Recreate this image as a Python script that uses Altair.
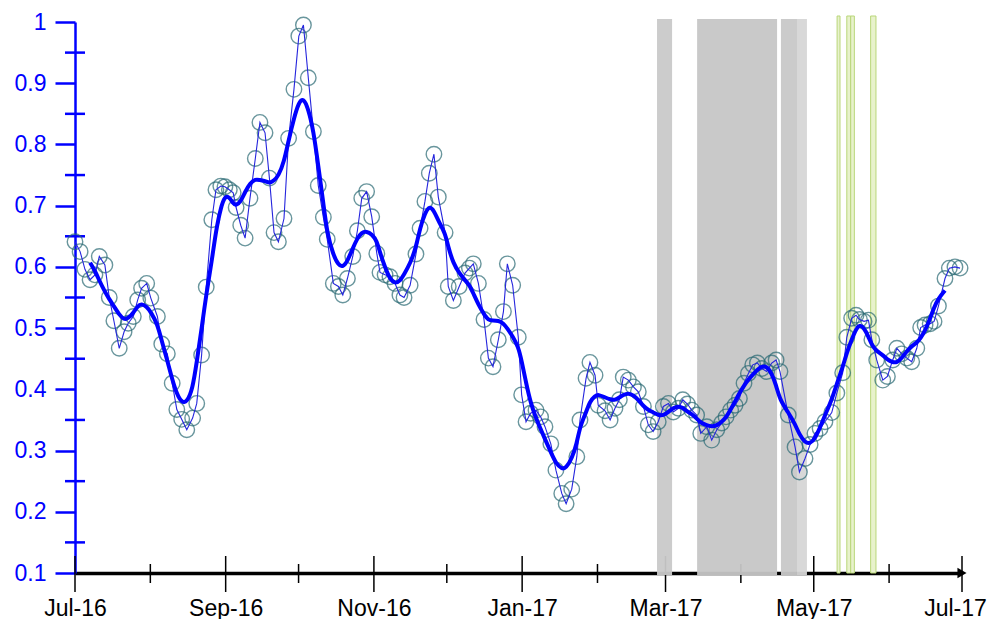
import altair as alt
import pandas as pd

start_date = pd.Timestamp("2016-07-01")

days_since_start = [
    0, 2.1, 4.1, 6.2, 8.2, 10, 12.3, 14.1, 16, 18.2,
    20.2, 21.9, 24, 25.8, 27.4, 29.5, 31.2, 33.9, 35.7, 38,
    40, 41.9, 43.9, 46, 48.4, 50.1, 52.1, 54, 56.3, 58,
    60, 61.7, 63.5, 65.1, 66.3, 68.2, 70, 72, 74.2, 76.1,
    78.2, 80, 81.9, 83.7, 86, 87.9, 90.1, 92.1, 94, 96,
    98.1, 100.1, 102.2, 103.8, 106.3, 108.4, 110.2, 112.1, 114.3, 116.2,
    118, 120, 122.1, 124.2, 125.5, 127.6, 129.6, 131.7, 133.7, 135.4,
    137.9, 140.3, 142, 144, 145.8, 147.7, 149.5, 152.3, 153.6, 155.7,
    158.1, 160.5, 162.3, 163.9, 166, 168.3, 170.1, 172, 174.2, 176.3,
    177.9, 180.1, 182.4, 183.8, 185.6, 187.5, 189.7, 191.6, 193.4, 195.8,
    197.9, 200.3, 202.1, 204.4, 206.5, 207.8, 210.3, 211.9, 214, 215.3,
    218.1, 220.2, 222.2, 224, 225.6, 227.7, 229.8, 231.8, 233.9, 235.9,
    237.9, 240, 242.1, 244.2, 246.2, 248.3, 250.1, 252, 253.8, 255.8,
    257.5, 260, 262, 264.1, 266.1, 267.9, 269.8, 271.6, 273.4, 275.3,
    277.1, 278.9, 280.8, 282.6, 284.6, 286.7, 288.5, 290.1, 293.5, 296.3,
    298.1, 300.4, 302.5, 304.5, 306.6, 308.6, 311.4, 313.5, 315.9, 317.6,
    319.6, 321.4, 322.8, 324.7, 326.5, 327.9, 329.9, 332.4, 334.3, 336.5,
    338.2, 340.2, 342.3, 344.3, 346.4, 348, 349.8, 351.9, 353.5, 355.3,
    358, 359.8, 362.1, 364.2,
]

index_values = [
    0.641, 0.625, 0.596, 0.579, 0.587, 0.617, 0.603, 0.550, 0.512, 0.467,
    0.494, 0.508, 0.519, 0.546, 0.565, 0.573, 0.549, 0.519, 0.474, 0.458,
    0.410, 0.367, 0.351, 0.334, 0.353, 0.377, 0.456, 0.567, 0.677, 0.726,
    0.732, 0.731, 0.726, 0.721, 0.697, 0.668, 0.647, 0.712, 0.777, 0.836,
    0.819, 0.745, 0.656, 0.641, 0.679, 0.810, 0.890, 0.977, 0.995, 0.909,
    0.821, 0.733, 0.681, 0.645, 0.573, 0.568, 0.554, 0.581, 0.617, 0.659,
    0.712, 0.723, 0.682, 0.622, 0.591, 0.587, 0.584, 0.573, 0.554, 0.550,
    0.570, 0.621, 0.663, 0.707, 0.753, 0.784, 0.714, 0.656, 0.568, 0.545,
    0.568, 0.590, 0.598, 0.605, 0.573, 0.514, 0.451, 0.437, 0.481, 0.527,
    0.605, 0.570, 0.485, 0.391, 0.347, 0.361, 0.366, 0.355, 0.339, 0.311,
    0.268, 0.230, 0.213, 0.237, 0.290, 0.350, 0.418, 0.444, 0.423, 0.374,
    0.365, 0.350, 0.369, 0.383, 0.420, 0.415, 0.404, 0.396, 0.372, 0.342,
    0.331, 0.347, 0.372, 0.377, 0.363, 0.369, 0.383, 0.376, 0.366, 0.358,
    0.328, 0.339, 0.317, 0.334, 0.345, 0.355, 0.366, 0.374, 0.385, 0.410,
    0.426, 0.440, 0.443, 0.434, 0.429, 0.443, 0.448, 0.429, 0.358, 0.306,
    0.265, 0.287, 0.310, 0.328, 0.336, 0.347, 0.362, 0.394, 0.427, 0.485,
    0.516, 0.521, 0.514, 0.511, 0.513, 0.481, 0.448, 0.415, 0.421, 0.448,
    0.467, 0.458, 0.451, 0.445, 0.467, 0.501, 0.505, 0.507, 0.511, 0.536,
    0.581, 0.598, 0.600, 0.598,
]

# shaded periods (day offsets from 1 Jul 2016)
gray_band_start = [239.5, 256.0, 290.5, 297.1]
gray_band_end = [245.7, 288.9, 297.1, 301.2]
gray_band_fill = ["#c9c9c9", "#c6c6c6", "#c8c8c8", "#d6d6d6"]
green_band_start = [313.6, 317.6, 319.2, 327.4]
green_band_end = [314.8, 319.2, 320.7, 329.6]

y_major_ticks = [0.1, 0.2, 0.3, 0.4, 0.5, 0.6, 0.7, 0.8, 0.9, 1.0]
y_minor_ticks = [0.15, 0.25, 0.35, 0.45, 0.55, 0.65, 0.75, 0.85, 0.95]
x_major_ticks = ["2016-07-01", "2016-09-01", "2016-11-01", "2017-01-01",
                 "2017-03-01", "2017-05-01", "2017-07-01"]
x_minor_ticks = ["2016-08-01", "2016-10-01", "2016-12-01", "2017-02-01",
                 "2017-04-01", "2017-06-01"]


def day_to_iso(d):
    return (start_date + pd.to_timedelta(d, unit="D")).strftime("%Y-%m-%dT%H:%M:%SZ")


def to_dt(s):
    t = pd.Timestamp(s)
    return alt.DateTime(year=t.year, month=t.month, date=t.day, utc=True)


points = pd.DataFrame({
    "i": list(range(len(index_values))),
    "date": [day_to_iso(d) for d in days_since_start],
    "v": index_values,
})
gray = pd.DataFrame({
    "start": [day_to_iso(d) for d in gray_band_start],
    "end": [day_to_iso(d) for d in gray_band_end],
    "fill": gray_band_fill,
})
green = pd.DataFrame({
    "start": [day_to_iso(d) for d in green_band_start],
    "end": [day_to_iso(d) for d in green_band_end],
})
xmaj = pd.DataFrame({"date": [s + "T00:00:00Z" for s in x_major_ticks]})
xmin = pd.DataFrame({"date": [s + "T00:00:00Z" for s in x_minor_ticks]})
ymin = pd.DataFrame({"v": y_minor_ticks})
arrow = pd.DataFrame({"date": [x_major_ticks[-1] + "T00:00:00Z"]})

FONT = "Liberation Sans"
BLUE = "#0000ff"
H = 551

X_SCALE = alt.Scale(type="utc", domain=[to_dt(x_major_ticks[0]), to_dt(x_major_ticks[-1])])
X_AXIS = alt.Axis(
    values=[to_dt(s) for s in x_major_ticks], format="%b-%y", title=None,
    domainColor="black", domainWidth=3.5, ticks=False, tickSize=0,
    labelColor="black", labelFont=FONT, labelFontSize=23, labelPadding=24,
    labelFlush=False, grid=False,
    # keep the last label inside the drawing
    labelOffset={"condition": {"test": "datum.value > utc(2017, 5, 15)", "value": -7}, "value": 0},
)
Y_SCALE = alt.Scale(domain=[0.1, 1.0], nice=False, zero=False)
Y_AXIS = alt.Axis(
    values=y_major_ticks, format="~g", title=None,
    domainColor=BLUE, domainWidth=2.5, tickColor=BLUE, tickWidth=2.5, tickSize=20,
    labelColor=BLUE, labelFont=FONT, labelFontSize=23, labelPadding=9, grid=False,
)


def X(field):
    return alt.X(field, scale=X_SCALE, axis=X_AXIS)


def Y(field):
    return alt.Y(field, scale=Y_SCALE, axis=Y_AXIS)


x_minor_rules = alt.Chart(xmin).mark_rule(color="black", strokeWidth=1.5).encode(
    x=X("date:T"), y=alt.value(H - 9), y2=alt.value(H + 10))
x_major_rules = alt.Chart(xmaj).mark_rule(color="black", strokeWidth=1.5).encode(
    x=X("date:T"), y=alt.value(H - 17), y2=alt.value(H + 19))

gray_rects = alt.Chart(gray).mark_rect(opacity=0.95).encode(
    x=X("start:T"), x2="end:T", y=alt.value(-3), y2=alt.value(H + 2),
    color=alt.Color("fill:N", scale=None))
green_rects = alt.Chart(green).mark_rect(
    fill="#e8f2cc", stroke="#b9d679", strokeWidth=1).encode(
    x=X("start:T"), x2="end:T", y=alt.value(-6), y2=alt.value(H))

y_minor_rules = alt.Chart(ymin).mark_rule(color=BLUE, strokeWidth=2.5).encode(
    y=Y("v:Q"), x=alt.value(-10), x2=alt.value(10))

circles = alt.Chart(points).mark_point(
    shape="circle", filled=False, size=240, stroke="#2a6a74", strokeWidth=1.4).encode(
    x=X("date:T"), y=Y("v:Q"))
thin_line = alt.Chart(points).mark_line(color="#2525dd", strokeWidth=1.1).encode(
    x=X("date:T"), y=Y("v:Q"), order="i:Q")
smooth_line = alt.Chart(points).transform_window(
    ma="mean(v)", n="count()", frame=[-3, 3], sort=[alt.SortField("i")]
).transform_filter("datum.n == 7").mark_line(
    color=BLUE, strokeWidth=4, interpolate="basis").encode(
    x=X("date:T"), y=alt.Y("ma:Q", scale=Y_SCALE, axis=Y_AXIS), order="i:Q")

arrow_head = alt.Chart(arrow).mark_point(
    shape="triangle-right", filled=True, size=110, color="black", opacity=1).encode(
    x=X("date:T"), y=alt.value(H))

chart = alt.layer(
    x_minor_rules, x_major_rules, gray_rects, green_rects, y_minor_rules,
    circles, thin_line, smooth_line, arrow_head,
).properties(
    width=887, height=H,
    autosize=alt.AutoSizeParams(type="none"),
    padding={"left": 67, "top": 14, "right": 25, "bottom": 46},
    background="white",
).configure_view(stroke=None)

chart.save("out.html", embed_options={"renderer": "svg", "actions": False})
